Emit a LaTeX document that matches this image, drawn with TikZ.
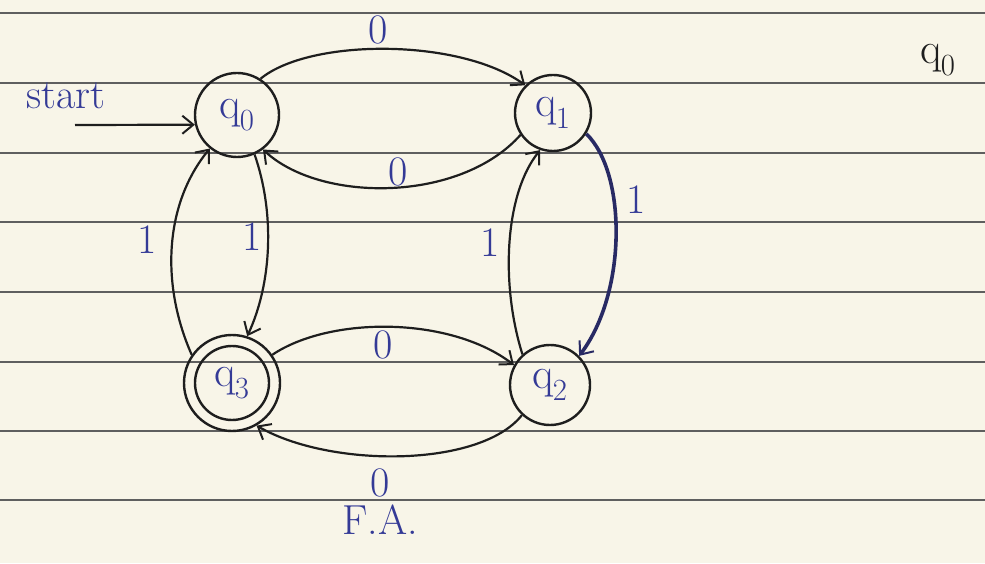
\documentclass[tikz,border=0pt]{standalone}
\usepackage{fontspec}
\usetikzlibrary{arrows.meta}
\definecolor{paper}{RGB}{248,245,232}
\definecolor{rule}{RGB}{95,95,95}
\definecolor{ink}{RGB}{52,58,150}
\definecolor{pen}{RGB}{30,30,30}
\definecolor{navy}{RGB}{40,42,100}
\newcommand{\stq}[1]{q\kern-1pt\textsubscript{#1}}
\tikzset{
  state/.style={circle,draw=pen,line width=2.4pt,inner sep=0pt,text=ink,font=\fontsize{44}{46}\selectfont},
  edge/.style={draw=pen,line width=2.2pt,-{Straight Barb[length=11pt,width=18pt,line width=2pt]}},
  lbl/.style={text=ink,font=\fontsize{42}{46}\selectfont,inner sep=0pt},
  ruled/.style={draw=rule,line width=1.3pt}
}
\begin{document}
\begin{tikzpicture}[x=1pt,y=1pt]
\fill[paper] (0,0) rectangle (985,563);
\useasboundingbox (0,0) rectangle (985,563);
% ruled paper lines
\foreach \yy in {550,480,410,341,271,201,132,63} {
  \draw[ruled] (0,\yy) -- (985,\yy);
}
% states
\node[state,minimum size=84pt] (q0) at (237,448) {\stq{0}};
\node[state,minimum size=76pt] (q1) at (553,450) {\stq{1}};
\node[state,minimum size=80pt] (q2) at (550,178) {\stq{2}};
\node[state,minimum size=74pt] (q3) at (232,180) {\stq{3}};
\node[circle,draw=pen,line width=2.4pt,minimum size=96pt,inner sep=0pt] (q3o) at (232,180) {};
% start
\coordinate (st) at (75,438);
\draw[edge] (st) -- (q0.193);
\node[lbl] (start) at (66,467) {start};
% transitions
\draw[edge] (q0.57) .. controls (310,525) and (460,525) .. (q1.135);
\draw[edge] (q1.214) .. controls (460,360) and (320,360) .. (q0.307);
\draw[edge,draw=navy,line width=3.6pt] (q1.328) .. controls (627,390) and (627,270) .. (q2.45);
\draw[edge] (q2.132) .. controls (500,280) and (505,370) .. (q1.251);
\draw[edge] (q0.294) .. controls (275,350) and (272,280) .. (q3o.72);
\draw[edge] (q3o.145) .. controls (160,280) and (165,360) .. (q0.231);
\draw[edge] (q3o.35) .. controls (330,247) and (450,247) .. (q2.151);
\draw[edge] (q2.227) .. controls (480,95) and (330,95) .. (q3o.300);
% labels
\node[lbl] (l01) at (378,533) {0};
\node[lbl] (l10) at (398,391) {0};
\node[lbl] (l12) at (636,363) {1};
\node[lbl] (l21) at (490,320) {1};
\node[lbl] (l30) at (147,323) {1};
\node[lbl] (l03) at (252,326) {1};
\node[lbl] (l32) at (383,218) {0};
\node[lbl] (l23) at (380,80) {0};
\node[lbl] (fa) at (380,43) {F.A.};
\node[lbl,text=pen,font=\fontsize{44}{46}\selectfont] (q0r) at (938,503) {\stq{0}};
\end{tikzpicture}
\end{document}
